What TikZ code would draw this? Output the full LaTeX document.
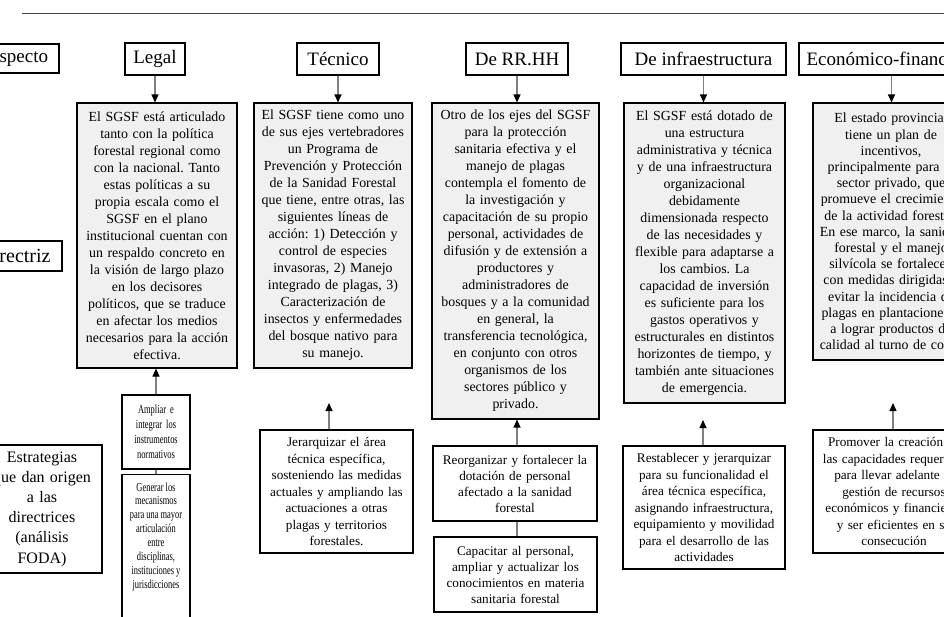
\documentclass[tikz,border=0pt]{standalone}
\usepackage{fontspec}
\setmainfont{Liberation Serif}
\newfontfamily\narrowserif[FakeStretch=0.69]{Liberation Serif}
\usetikzlibrary{arrows.meta}
\definecolor{boxgray}{HTML}{F0F0F0}
\definecolor{linegray}{HTML}{808080}
\begin{document}
\frenchspacing
\begin{tikzpicture}[x=1pt,y=-1pt,
 box/.style={draw=black, line width=1.1pt, inner sep=0pt, align=center},
 hdr/.style={box, fill=white, font=\fontsize{19}{22}\selectfont, minimum height=32pt},
 mainbox/.style={box, fill=boxgray, font=\fontsize{13.9}{17}\selectfont},
 strat/.style={box, fill=white, font=\fontsize{13.2}{16.5}\selectfont},
 small/.style={box, fill=white, font=\narrowserif\fontsize{12.2}{15}\selectfont},
 arr/.style={draw=linegray, line width=1.1pt, -{Triangle[length=8pt,width=7pt,color=black]}},
 link/.style={draw=linegray, line width=1.1pt}]
\useasboundingbox (0,0) rectangle (944,616);
\fill[white] (0,0) rectangle (944,616);
\clip (0,0) rectangle (944,616);
\draw[line width=1.4pt, color=black!75] (22,13.5) -- (960,13.5);

% row labels
\node[hdr, minimum width=84pt, minimum height=29pt] (asp) at (17,58.5) {Aspecto};
\node[hdr, font=\fontsize{20}{22}\selectfont, minimum width=94pt, minimum height=30pt] (dir) at (15,256) {Directriz};
\node[box, fill=white, font=\fontsize{16}{20.2}\selectfont, text width=120pt, minimum height=128pt] (est) at (42,509)
 {Estrategias\\que dan origen\\a las\\directrices\\(análisis\\FODA)};

% headers
\node[hdr, minimum width=60pt] (h1) at (155,59) {Legal};
\node[hdr, minimum width=82pt] (h2) at (338,59) {Técnico};
\node[hdr, minimum width=102pt] (h3) at (517,59) {De RR.HH};
\node[hdr, minimum width=165pt] (h4) at (703.5,59) {De infraestructura};
\node[hdr, minimum width=185pt] (h5) at (891.5,59) {Económico-financiero};

% main boxes
\node[mainbox, text width=160pt, minimum height=265pt] (m1) at (157,235.5)
 {El SGSF está articulado\\tanto con la política\\forestal regional como\\con la nacional. Tanto\\estas políticas a su\\propia escala como el\\SGSF en el plano\\institucional cuentan con\\un respaldo concreto en\\la visión de largo plazo\\en los decisores\\políticos, que se traduce\\en afectar los medios\\necesarios para la acción\\efectiva.};
\node[mainbox, text width=158pt, minimum height=265pt] (m2) at (333,235.5)
 {El SGSF tiene como uno\\de sus ejes vertebradores\\un Programa de\\Prevención y Protección\\de la Sanidad Forestal\\que tiene, entre otras, las\\siguientes líneas de\\acción: 1) Detección y\\control de especies\\invasoras, 2) Manejo\\integrado de plagas, 3)\\Caracterización de\\insectos y enfermedades\\del bosque nativo para\\su manejo.};
\node[mainbox, text width=167pt, minimum height=316pt] (m3) at (515.5,261)
 {Otro de los ejes del SGSF\\para la protección\\sanitaria efectiva y el\\manejo de plagas\\contempla el fomento de\\la investigación y\\capacitación de su propio\\personal, actividades de\\difusión y de extensión a\\productores y\\administradores de\\bosques y a la comunidad\\en general, la\\transferencia tecnológica,\\en conjunto con otros\\organismos de los\\sectores público y\\privado.};
\node[mainbox, text width=161pt, minimum height=300pt] (m4) at (704.5,253)
 {El SGSF está dotado de\\una estructura\\administrativa y técnica\\y de una infraestructura\\organizacional\\debidamente\\dimensionada respecto\\de las necesidades y\\flexible para adaptarse a\\los cambios. La\\capacidad de inversión\\es suficiente para los\\gastos operativos y\\estructurales en distintos\\horizontes de tiempo, y\\también ante situaciones\\de emergencia.};
\node[mainbox, font=\fontsize{13.9}{16.2}\selectfont, text width=156pt, minimum height=257pt] (m5) at (891,231.5)
 {El estado provincial\\tiene un plan de\\incentivos,\\principalmente para el\\sector privado, que\\promueve el crecimiento\\de la actividad forestal.\\En ese marco, la sanidad\\forestal y el manejo\\silvícola se fortalecen\\con medidas dirigidas a\\evitar la incidencia de\\plagas en plantaciones y\\a lograr productos de\\calidad al turno de corte.};

% strategy boxes
\node[small, text width=68pt, minimum height=74pt] (s1) at (156,432)
 {Ampliar e\\integrar los\\instrumentos\\normativos};
\node[box, fill=white, anchor=north, font=\narrowserif\fontsize{12.2}{13.9}\selectfont] (s1b) at (156,474)
 {\parbox[c][160pt][t]{68pt}{\centering\vspace*{8pt}Generar los\\mecanismos\\para una mayor\\articulación\\entre\\disciplinas,\\instituciones y\\jurisdicciones}};
\node[strat, text width=153pt, minimum height=123pt] (s2) at (336.5,491.5)
 {Jerarquizar el área\\técnica específica,\\sosteniendo las medidas\\actuales y ampliando las\\actuaciones a otras\\plagas y territorios\\forestales.};
\node[strat, font=\fontsize{13.2}{16}\selectfont, text width=164pt, minimum height=75pt] (s3) at (515,483.5)
 {Reorganizar y fortalecer la\\dotación de personal\\afectado a la sanidad\\forestal};
\node[strat, font=\fontsize{13.2}{16}\selectfont, text width=163pt, minimum height=75pt] (s3b) at (515.5,574.5)
 {Capacitar al personal,\\ampliar y actualizar los\\conocimientos en materia\\sanitaria forestal};
\node[strat, text width=162pt, minimum height=123pt] (s4) at (704,507.5)
 {Restablecer y jerarquizar\\para su funcionalidad el\\área técnica específica,\\asignando infraestructura,\\equipamiento y movilidad\\para el desarrollo de las\\actividades};
\node[strat, text width=162pt, minimum height=123pt] (s5) at (894,491.5)
 {Promover la creación de\\las capacidades requeridas\\para llevar adelante la\\gestión de recursos\\económicos y financieros\\y ser eficientes en su\\consecución};

% free arrow ends
\coordinate (t2) at (329,403);
\coordinate (t4) at (703,420);
\coordinate (t5) at (893,403);

% header arrows
\draw[arr] (h1) -- (h1 |- m1.north);
\draw[arr] (h2) -- (h2 |- m2.north);
\draw[arr] (h3) -- (h3 |- m3.north);
\draw[arr] (h4) -- (h4 |- m4.north);
\draw[arr] (h5) -- (h5 |- m5.north);

% strategy arrows
\draw[arr] (s1) -- (s1 |- m1.south);
\draw[arr] (s2.north -| t2) -- (t2);
\draw[arr] (s3.north -| h3) -- (h3 |- m3.south);
\draw[arr] (s4.north -| t4) -- (t4);
\draw[arr] (s5.north -| t5) -- (t5);

% links between strategy boxes
\draw[link] (s1) -- (s1b);
\draw[link] (s3.south -| h3) -- (s3b.north -| h3);
\end{tikzpicture}
\end{document}
